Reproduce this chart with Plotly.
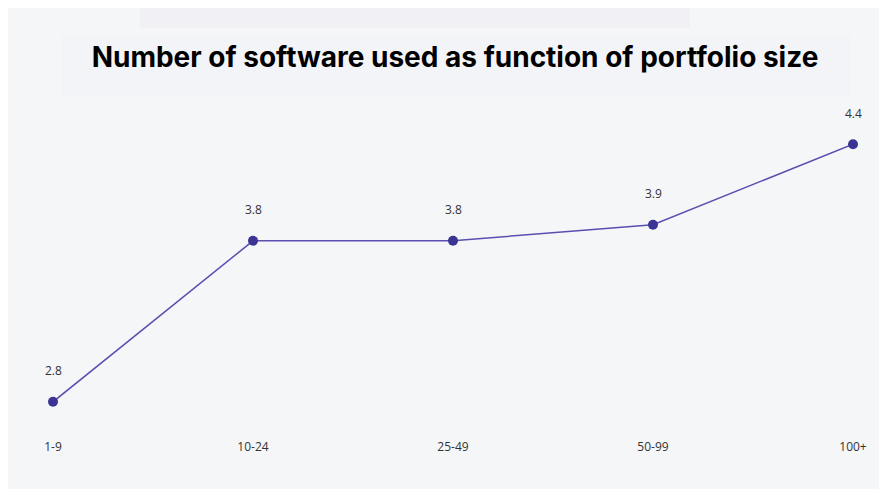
import plotly.graph_objects as go

categories = ["1-9", "10-24", "25-49", "50-99", "100+"]
values = [2.8, 3.8, 3.8, 3.9, 4.4]
title_text = "Number of software used as function of portfolio size"

# page has an 8px body margin; figure occupies screen 8..882 x 8..489
W, H = 874, 481
OFF = 8
xs = list(range(len(categories)))

fig = go.Figure()
fig.add_trace(go.Scatter(
    x=xs, y=values, mode="lines+markers",
    line=dict(color="#5a4fb0", width=1.5),
    marker=dict(color="#3b3494", size=10),
    cliponaxis=False, hoverinfo="skip",
))

for xv, v in zip(xs, values):
    fig.add_annotation(x=xv, y=v, text=f"{v:.1f}", showarrow=False,
                       yshift=31, font=dict(family="Open Sans", size=12, color="#333333"))

l, r, t, b = 45, 29, 104, 55
pw, ph = W - l - r, H - t - b
def px(x):
    return (x - OFF - l) / pw
def py(y):
    return 1 - (y - OFF - t) / ph

fig.update_layout(
    width=W, height=H,
    margin=dict(l=l, r=r, t=t, b=b),
    paper_bgcolor="#f5f6f8", plot_bgcolor="rgba(0,0,0,0)",
    showlegend=False,
    xaxis=dict(range=[0, 4], tickvals=xs, ticktext=categories, showgrid=False,
               zeroline=False, showline=False, ticks="", fixedrange=True,
               tickfont=dict(family="Open Sans", size=12, color="#333333"),
               ticklabelstandoff=4),
    yaxis=dict(range=[2.6, 4.6], visible=False, fixedrange=True),
    shapes=[
        dict(type="rect", xref="paper", yref="paper", x0=px(140), x1=px(690), y0=py(28), y1=py(8),
             line=dict(width=0), fillcolor="#f0f0f5", layer="below"),
        dict(type="rect", xref="paper", yref="paper", x0=px(62), x1=px(850), y0=py(97), y1=py(35),
             line=dict(width=0), fillcolor="#f3f4f7", layer="below"),
    ],
    title=dict(text=f"<b>{title_text}</b>", x=(455 - OFF) / W, xanchor="center",
               y=1 - (57 - OFF) / H, yanchor="middle",
               font=dict(family="Inter", size=28, color="#000000")),
)

fig.write_html("out.html")
